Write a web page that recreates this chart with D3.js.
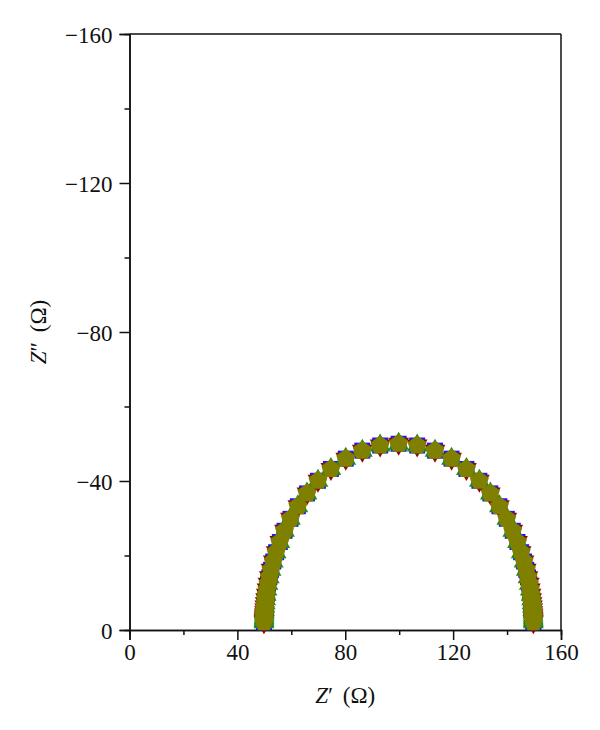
<!DOCTYPE html>
<html>
<head>
<meta charset="utf-8">
<script src="https://cdn.jsdelivr.net/npm/d3@7"></script>
<style>
  html, body { margin: 0; padding: 0; background: #fff; }
  svg { display: block; }
  svg text { font-family: "Liberation Serif", "DejaVu Serif", serif; fill: #111; }
</style>
</head>
<body>
<svg id="chart" width="600" height="730"></svg>
<script>
// ---- data ----
const zReal = [49.85, 49.86, 49.88, 49.90, 49.93, 49.98, 50.03, 50.10, 50.19, 50.32,
  50.49, 50.71, 50.99, 51.36, 51.85, 52.48, 53.31, 54.37, 55.74, 57.48,
  59.68, 62.43, 65.81, 69.88, 74.68, 80.19, 86.33, 92.94, 99.80, 106.67,
  113.28, 119.42, 124.93, 129.73, 133.80, 137.17, 139.92, 142.12, 143.87, 145.23,
  146.30, 147.12, 147.76, 148.24, 148.61, 148.90, 149.12, 149.28, 149.41, 149.50,
  149.57, 149.63, 149.67, 149.70, 149.73, 149.74, 149.75];
const zImag = [-2.09, -2.40, -2.75, -3.16, -3.63, -4.16, -4.78, -5.48, -6.29, -7.21,
  -8.26, -9.47, -10.84, -12.40, -14.16, -16.15, -18.39, -20.88, -23.63, -26.63,
  -29.84, -33.22, -36.67, -40.06, -43.23, -46.00, -48.15, -49.53, -50.00, -49.53,
  -48.15, -46.00, -43.23, -40.06, -36.67, -33.22, -29.84, -26.63, -23.63, -20.88,
  -18.39, -16.15, -14.16, -12.40, -10.84, -9.47, -8.26, -7.21, -6.29, -5.48,
  -4.78, -4.16, -3.63, -3.16, -2.75, -2.40, -2.09];
const seriesNames = ["s1", "s2", "s3", "s4"];
const seriesColors = ["#1a1aff", "#8b0a0a", "#1f8a1f", "#7f7f00"];
const seriesShapes = ["square", "triangleDown", "triangleUp", "pentagon"];
const xTicks = [0, 40, 80, 120, 160];
const xMinor = [20, 60, 100, 140];
const yTicks = [0, -40, -80, -120, -160];
const yMinor = [-20, -60, -100, -140];

(function () {
// ---- layout ----
const svg = d3.select("#chart");
const pl = 129.5, pr = 561, pt = 34, pb = 630;
const FS = 23;
const x = d3.scaleLinear().domain([0, 160]).range([pl, pr]);
const y = d3.scaleLinear().domain([0, -160]).range([pb, pt]);

const minusFmt = d => (d < 0 ? "\u2212" + Math.abs(d) : String(d));

// frame (top and right)
svg.append("line").attr("x1", pl).attr("x2", pr).attr("y1", pt).attr("y2", pt)
  .attr("stroke", "#111").attr("stroke-width", 1.5);
svg.append("line").attr("x1", pr).attr("x2", pr).attr("y1", pt).attr("y2", pb)
  .attr("stroke", "#111").attr("stroke-width", 1.5);

// axes
const xAxis = svg.append("g").attr("transform", `translate(0,${pb})`)
  .call(d3.axisBottom(x).tickValues(xTicks).tickSize(10).tickPadding(4).tickFormat(minusFmt));
const xAxisMinor = svg.append("g").attr("transform", `translate(0,${pb})`)
  .call(d3.axisBottom(x).tickValues(xMinor).tickSize(5).tickFormat(""));
const yAxis = svg.append("g").attr("transform", `translate(${pl},0)`)
  .call(d3.axisLeft(y).tickValues(yTicks).tickSize(10).tickPadding(7).tickFormat(minusFmt));
const yAxisMinor = svg.append("g").attr("transform", `translate(${pl},0)`)
  .call(d3.axisLeft(y).tickValues(yMinor).tickSize(5).tickFormat(""));

[xAxis, xAxisMinor, yAxis, yAxisMinor].forEach(g => {
  g.attr("font-size", FS).attr("font-family", '"Liberation Serif", serif');
  g.selectAll(".domain").attr("stroke", "#111").attr("stroke-width", 1.5);
  g.selectAll(".tick line").attr("stroke", "#111").attr("stroke-width", 1.5);
  g.selectAll(".tick text").attr("font-size", FS).attr("fill", "#111");
});
yAxis.selectAll(".tick text").attr("dy", "0.35em");

// axis titles
const xt = svg.append("text").attr("x", (pl + pr) / 2).attr("y", 703)
  .attr("text-anchor", "middle").attr("font-size", FS).attr("word-spacing", 4);
xt.append("tspan").attr("font-style", "italic").text("Z");
xt.append("tspan").text("\u2032 (\u03A9)");

const yt = svg.append("text")
  .attr("transform", `translate(46,${(pt + pb) / 2}) rotate(-90)`)
  .attr("text-anchor", "middle").attr("font-size", FS).attr("word-spacing", 4);
yt.append("tspan").attr("font-style", "italic").text("Z");
yt.append("tspan").text("\u2033 (\u03A9)");

// marker shapes
function shapePath(shape) {
  if (shape === "square") {
    const h = 8;
    return `M${-h},${-h}L${h},${-h}L${h},${h}L${-h},${h}Z`;
  }
  if (shape === "triangleDown" || shape === "triangleUp") {
    const R = 12, s = shape === "triangleUp" ? -1 : 1;
    const pts = [[0, s * R], [R * 0.866, -s * R / 2], [-R * 0.866, -s * R / 2]];
    return "M" + pts.map(p => p.join(",")).join("L") + "Z";
  }
  const r = 10;
  const pts = d3.range(5).map(i => {
    const a = -Math.PI / 2 + i * 2 * Math.PI / 5;
    return [r * Math.cos(a), r * Math.sin(a)];
  });
  return "M" + pts.map(p => p.join(",")).join("L") + "Z";
}

const points = zReal.map((v, i) => ({ re: v, im: zImag[i] }));
seriesNames.forEach((name, si) => {
  svg.append("g").attr("class", name)
    .selectAll("path").data(points).join("path")
    .attr("transform", d => `translate(${x(d.re)},${y(d.im)})`)
    .attr("d", shapePath(seriesShapes[si]))
    .attr("fill", seriesColors[si]);
});
})();
</script>
</body>
</html>
